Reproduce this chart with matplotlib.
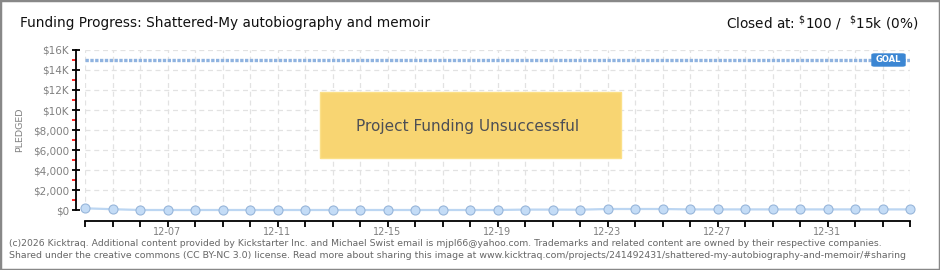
"""Kicktraq-style funding progress chart."""
import matplotlib
matplotlib.use("Agg")
import matplotlib.pyplot as plt
import matplotlib.dates as mdates
from matplotlib.patches import Rectangle, FancyBboxPatch
import numpy as np

# data
dias = [
    "2025-12-04", "2025-12-05", "2025-12-06", "2025-12-07", "2025-12-08", "2025-12-09",
    "2025-12-10", "2025-12-11", "2025-12-12", "2025-12-13", "2025-12-14", "2025-12-15",
    "2025-12-16", "2025-12-17", "2025-12-18", "2025-12-19", "2025-12-20", "2025-12-21",
    "2025-12-22", "2025-12-23", "2025-12-24", "2025-12-25", "2025-12-26", "2025-12-27",
    "2025-12-28", "2025-12-29", "2025-12-30", "2025-12-31", "2026-01-01", "2026-01-02",
    "2026-01-03",
]
pledged = [
    170, 80, 0, 0, 0, 0, 0, 0, 0, 0, 0, 0, 0, 0, 0, 0, 40, 40, 30, 100, 100, 100,
    60, 60, 60, 60, 60, 60, 60, 60, 60,
]
meta = 15000
y_ticks = [0, 2000, 4000, 6000, 8000, 10000, 12000, 14000, 16000]
y_labels = ["$0", "$2,000", "$4,000", "$6,000", "$8,000", "$10K", "$12K", "$14K", "$16K"]

titulo = "Funding Progress: Shattered-My autobiography and memoir"
rodape = [
    "(c)2026 Kicktraq. Additional content provided by Kickstarter Inc. and Michael Swist "
    "email is mjpl66@yahoo.com. Trademarks and related content are owned by their respective companies.",
    "Shared under the creative commons (CC BY-NC 3.0) license. Read more about sharing this image at "
    "www.kicktraq.com/projects/241492431/shattered-my-autobiography-and-memoir/#sharing",
]

W, H = 940, 270
datas = np.array(dias, dtype="datetime64[D]").astype("O")

fig = plt.figure(figsize=(W / 100, H / 100), dpi=100)
fig.patch.set_facecolor("white")


def fx(px):
    return px / W


def fy(py):
    return 1 - py / H


eixo = fig.add_axes([fx(85), fy(210), fx(910) - fx(85), fy(50) - fy(210)])
eixo.set_xlim(datas[0], datas[-1])
eixo.set_ylim(0, 16000)

# grade
eixo.set_yticks(y_ticks)
eixo.set_yticklabels(y_labels)
eixo.yaxis.set_minor_locator(matplotlib.ticker.MultipleLocator(1000))
eixo.xaxis.set_major_locator(mdates.DayLocator(bymonthday=[7, 11, 15, 19, 23, 27, 31]))
eixo.xaxis.set_major_formatter(mdates.DateFormatter("%m-%d"))
eixo.xaxis.set_minor_locator(mdates.DayLocator())
estilo_grade = dict(color="#e2e2e2", linestyle=(0, (4, 3)), linewidth=0.9)
eixo.grid(True, which="major", axis="y", **estilo_grade)
eixo.grid(True, which="both", axis="x", **estilo_grade)
eixo.set_axisbelow(True)

for lado in ["top", "right"]:
    eixo.spines[lado].set_visible(False)
eixo.spines["left"].set_position(("outward", 6.5))
eixo.spines["bottom"].set_position(("outward", 8))
eixo.spines["left"].set_linewidth(1.3)
eixo.spines["bottom"].set_linewidth(1.3)

eixo.tick_params(axis="y", which="major", direction="inout", length=6, width=1.3,
                 color="black", labelsize=7.5, labelcolor="#808080", pad=2)
eixo.tick_params(axis="y", which="minor", direction="out", length=3, width=1.2, color="red")
eixo.tick_params(axis="x", which="both", direction="out", length=4, width=1.3,
                 color="black", labelsize=7, labelcolor="#808080", pad=0.5)

fig.text(fx(20), fy(130), "PLEDGED", rotation=90, fontsize=6.8, color="#808080",
         ha="center", va="center")

# linha da meta
eixo.plot([datas[0], datas[-1]], [meta, meta], color="#8fb3e0", linewidth=2.4,
          dashes=(1.0, 0.45), solid_capstyle="butt", dash_capstyle="butt", zorder=3)

# série arrecadada
eixo.plot(datas, pledged, color="#bcd6f2", linewidth=1.6, zorder=4, clip_on=False)
eixo.plot(datas, pledged, linestyle="none", marker="o", markersize=6.5,
          markerfacecolor="#c4dcf6", markeredgecolor="#98b6da", markeredgewidth=0.8,
          zorder=5, clip_on=False)

# etiqueta GOAL
fig.patches.append(FancyBboxPatch((fx(872), fy(66)), fx(905) - fx(872), fy(54) - fy(66),
                                  boxstyle="round,pad=0,rounding_size=0.003",
                                  transform=fig.transFigure, facecolor="#3b86d3",
                                  edgecolor="#3b86d3", zorder=6))
fig.text(fx(888), fy(60), "GOAL", color="white", fontsize=6, fontweight="bold",
         ha="center", va="center", zorder=7)

# caixa de projeto sem sucesso
fig.patches.append(Rectangle((fx(320), fy(158)), fx(621) - fx(320), fy(92) - fy(158),
                             transform=fig.transFigure, facecolor="#f8d572",
                             edgecolor="#fbe088", linewidth=1, zorder=6))
fig.text(fx(468), fy(126), "Project Funding Unsuccessful", color="#4d4f55",
         fontsize=11, ha="center", va="center", zorder=7)

# cabeçalho
fig.text(fx(20), fy(23), titulo, fontsize=9.8, color="#111111", ha="left", va="center")
fig.text(fx(918), fy(23), r"Closed at: $^{\$}$100 /  $^{\$}$15k (0%)", fontsize=9.8,
         color="#111111", ha="right", va="center")

# rodapé
fig.text(fx(9), fy(244), rodape[0], fontsize=6.65, color="#666666", ha="left", va="center")
fig.text(fx(9), fy(256), rodape[1], fontsize=6.75, color="#666666", ha="left", va="center")

# moldura
fig.patches.append(Rectangle((0, 0), 1, 1, transform=fig.transFigure, fill=False,
                             edgecolor="#888888", linewidth=2.5, zorder=10))

fig.savefig("out.png", dpi=100)
